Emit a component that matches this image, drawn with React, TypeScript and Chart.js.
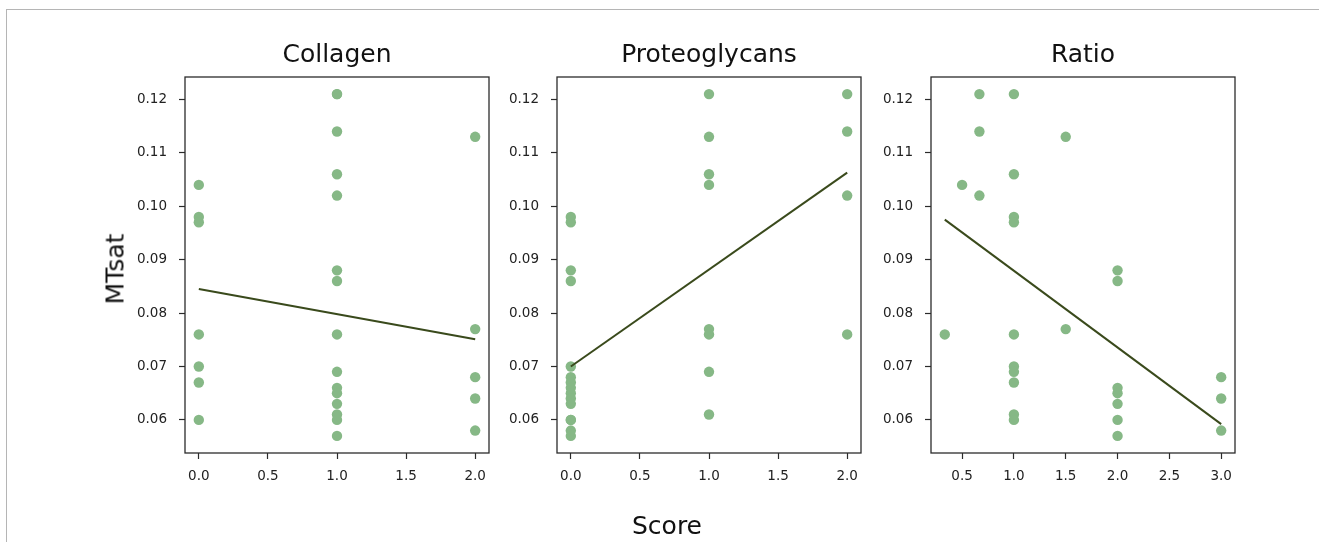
import React, { useEffect, useRef } from 'react';
import { Chart, registerables } from 'chart.js';

Chart.register(...registerables);

// ---------- data ----------
const yTicks = [0.06, 0.07, 0.08, 0.09, 0.1, 0.11, 0.12];
const scoreTicks = [0, 0.5, 1, 1.5, 2];
const ratioTicks = [0.5, 1, 1.5, 2, 2.5, 3];

const collagenScore = [0, 0, 0, 0, 0, 0, 0, 1, 1, 1, 1, 1, 1, 1, 1, 1, 1, 1, 1, 1, 1, 1, 2, 2, 2, 2, 2];
const collagenMTsat = [
  0.104, 0.098, 0.097, 0.076, 0.070, 0.067, 0.060,
  0.121, 0.121, 0.114, 0.106, 0.102, 0.088, 0.086, 0.076, 0.069, 0.066, 0.065, 0.063, 0.061, 0.060, 0.057,
  0.113, 0.077, 0.068, 0.064, 0.058,
];
const collagenFitX = [0, 2];
const collagenFitY = [0.0845, 0.0751];

const proteoScore = [0, 0, 0, 0, 0, 0, 0, 0, 0, 0, 0, 0, 0, 0, 0, 1, 1, 1, 1, 1, 1, 1, 1, 2, 2, 2, 2];
const proteoMTsat = [
  0.098, 0.097, 0.088, 0.086, 0.070, 0.068, 0.067, 0.066, 0.065, 0.064, 0.063, 0.060, 0.060, 0.058, 0.057,
  0.121, 0.113, 0.106, 0.104, 0.077, 0.076, 0.069, 0.061,
  0.121, 0.114, 0.102, 0.076,
];
const proteoFitX = [0, 2];
const proteoFitY = [0.0700, 0.1063];

const ratioScore = [
  0.333, 0.5, 0.667, 0.667, 0.667,
  1, 1, 1, 1, 1, 1, 1, 1, 1, 1,
  1.5, 1.5,
  2, 2, 2, 2, 2, 2, 2,
  3, 3, 3,
];
const ratioMTsat = [
  0.076, 0.104, 0.121, 0.114, 0.102,
  0.121, 0.106, 0.098, 0.097, 0.076, 0.070, 0.069, 0.067, 0.061, 0.060,
  0.113, 0.077,
  0.088, 0.086, 0.066, 0.065, 0.063, 0.060, 0.057,
  0.068, 0.064, 0.058,
];
const ratioFitX = [0.333, 3];
const ratioFitY = [0.0975, 0.0592];

const panelTitles = ['Collagen', 'Proteoglycans', 'Ratio'];
const yAxisLabel = 'MTsat';
const xAxisLabel = 'Score';

// ---------- style / layout ----------
const FONT = "'DejaVu Sans', 'Liberation Sans', sans-serif";
const POINT_COLOR = '#86b886';
const LINE_COLOR = '#3a4a1c';
const AXIS_COLOR = '#2b2b2b';
const TEXT_COLOR = '#222';
const PLOT_W = 304;
const AXIS_W = 90;
const CANVAS_H = 542;
const Y_MIN = 0.0538;
const Y_MAX = 0.1242;

const framePlugin = {
  id: 'frame',
  afterDraw(chart: any) {
    const { ctx, chartArea } = chart;
    ctx.save();
    ctx.strokeStyle = AXIS_COLOR;
    ctx.lineWidth = 1.3;
    ctx.strokeRect(chartArea.left, chartArea.top, chartArea.right - chartArea.left, chartArea.bottom - chartArea.top);
    ctx.restore();
  },
};

type PanelProps = {
  title: string;
  xs: number[];
  ys: number[];
  fitX: number[];
  fitY: number[];
  xMin: number;
  xMax: number;
  xTicks: number[];
  plotLeft: number;
};

function Panel({ title, xs, ys, fitX, fitY, xMin, xMax, xTicks, plotLeft }: PanelProps) {
  const ref = useRef<HTMLCanvasElement | null>(null);
  useEffect(() => {
    if (!ref.current) return;
    const tickGrid = {
      display: true,
      drawOnChartArea: false,
      drawTicks: true,
      tickLength: 6,
      tickColor: AXIS_COLOR,
      tickWidth: 1.2,
    };
    const chart = new Chart(ref.current, {
      type: 'scatter',
      data: {
        datasets: [
          {
            data: fitX.map((x, i) => ({ x, y: fitY[i] })),
            showLine: true,
            borderColor: LINE_COLOR,
            borderWidth: 2,
            pointRadius: 0,
            fill: false,
          },
          {
            data: xs.map((x, i) => ({ x, y: ys[i] })),
            pointRadius: 5.2,
            pointBackgroundColor: POINT_COLOR,
            pointBorderWidth: 0,
            borderWidth: 0,
            showLine: false,
          },
        ],
      },
      options: {
        animation: false,
        responsive: false,
        devicePixelRatio: 1,
        events: [],
        layout: { padding: { top: 0, bottom: 49, left: 0, right: 0 } },
        plugins: {
          legend: { display: false },
          tooltip: { enabled: false },
          title: {
            display: true,
            text: title,
            color: '#111',
            font: { family: FONT, size: 25, weight: 'normal', lineHeight: 1 },
            padding: { top: 43, bottom: 9 },
          },
        },
        scales: {
          x: {
            type: 'linear',
            min: xMin,
            max: xMax,
            border: { display: false },
            grid: tickGrid,
            afterBuildTicks: (s: any) => {
              s.ticks = xTicks.map((v) => ({ value: v }));
            },
            afterFit: (s: any) => {
              s.height = 40;
            },
            ticks: {
              padding: 9,
              color: TEXT_COLOR,
              font: { family: FONT, size: 13.5 },
              maxRotation: 0,
              callback: (v: any) => Number(v).toFixed(1),
            },
          },
          y: {
            type: 'linear',
            position: 'left',
            min: Y_MIN,
            max: Y_MAX,
            border: { display: false },
            grid: tickGrid,
            afterBuildTicks: (s: any) => {
              s.ticks = yTicks.map((v) => ({ value: v }));
            },
            afterFit: (s: any) => {
              s.width = AXIS_W;
            },
            ticks: {
              padding: 12,
              color: TEXT_COLOR,
              font: { family: FONT, size: 13.5 },
              callback: (v: any) => Number(v).toFixed(2),
            },
          },
          yR: {
            type: 'linear',
            position: 'right',
            display: true,
            border: { display: false },
            grid: { display: false },
            ticks: { display: false },
            afterFit: (s: any) => {
              s.width = AXIS_W;
            },
          },
        },
      } as any,
      plugins: [framePlugin],
    });
    return () => chart.destroy();
  }, []);
  return (
    <canvas
      ref={ref}
      width={PLOT_W + 2 * AXIS_W}
      height={CANVAS_H}
      style={{ position: 'absolute', left: plotLeft - AXIS_W, top: 0, width: PLOT_W + 2 * AXIS_W, height: CANVAS_H }}
    />
  );
}

export default function App() {
  return (
    <div
      style={{
        position: 'absolute',
        left: 0,
        top: 0,
        width: 1319,
        height: 542,
        overflow: 'hidden',
        background: '#fff',
        fontFamily: FONT,
      }}
    >
      <div
        style={{
          position: 'absolute',
          left: 6,
          top: 9,
          width: 1330,
          height: 560,
          borderTop: '1px solid #b5b5b5',
          borderLeft: '1px solid #b5b5b5',
        }}
      />
      <Panel title={panelTitles[0]} xs={collagenScore} ys={collagenMTsat} fitX={collagenFitX} fitY={collagenFitY} xMin={-0.1} xMax={2.1} xTicks={scoreTicks} plotLeft={185} />
      <Panel title={panelTitles[1]} xs={proteoScore} ys={proteoMTsat} fitX={proteoFitX} fitY={proteoFitY} xMin={-0.1} xMax={2.1} xTicks={scoreTicks} plotLeft={557} />
      <Panel title={panelTitles[2]} xs={ratioScore} ys={ratioMTsat} fitX={ratioFitX} fitY={ratioFitY} xMin={0.2} xMax={3.1333} xTicks={ratioTicks} plotLeft={931} />
      <div
        style={{
          position: 'absolute',
          left: 114.5,
          top: 269,
          transform: 'translate(-50%, -50%) rotate(-90deg)',
          fontSize: 25,
          lineHeight: '25px',
          color: '#111',
          whiteSpace: 'nowrap',
        }}
      >
        {yAxisLabel}
      </div>
      <div
        style={{
          position: 'absolute',
          left: 667,
          top: 525,
          transform: 'translate(-50%, -50%)',
          fontSize: 25,
          lineHeight: '25px',
          color: '#111',
          whiteSpace: 'nowrap',
        }}
      >
        {xAxisLabel}
      </div>
    </div>
  );
}
